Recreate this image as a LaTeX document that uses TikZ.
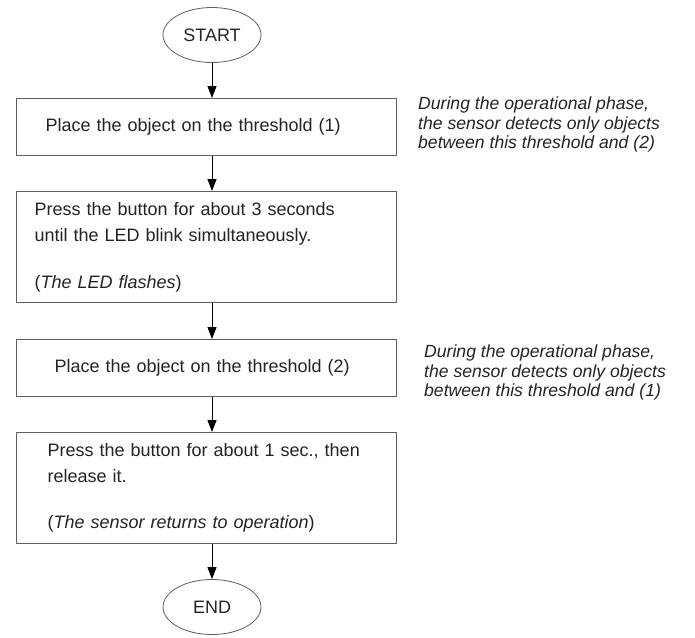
\documentclass[tikz,border=0pt]{standalone}
\usepackage{fontspec}
\setmainfont{Liberation Sans}
\usetikzlibrary{shapes.geometric}
\usetikzlibrary{arrows.meta}

\begin{document}
\begin{tikzpicture}[x=1pt,y=-1pt,
	stepbox/.style={draw=boxgray, line width=1.2pt, rectangle, anchor=north west, minimum width=380pt, align=left, inner ysep=0pt, text=txtgray, font=\fontsize{18}{26}\selectfont},
	terminal/.style={draw=boxgray, line width=0.8pt, ellipse, minimum width=98pt, minimum height=55pt, inner sep=0pt, text=txtgray, font=\fontsize{18}{20}\selectfont},
	note/.style={anchor=north west, align=left, inner sep=0pt, text=txtgray, font=\fontsize{17.6}{19.5}\selectfont\itshape},
	flow/.style={-{Triangle[length=12pt,width=9pt]}, line width=1pt}]
	\definecolor{boxgray}{RGB}{95,95,95}
	\definecolor{txtgray}{RGB}{35,35,35}
	\useasboundingbox (0,0) rectangle (695,637);
	
	\node[terminal] (start) at (212,35) {START};
	\node[stepbox, inner xsep=29pt, text width=322pt, minimum height=57pt] (place1) at (16,98) {Place the object on the threshold (1)};
	\node[stepbox, inner xsep=18pt, text width=344pt, minimum height=111pt] (press3) at (16,191) {Press the button for about 3 seconds\\until the LED blink simultaneously.\\[21pt](\textit{The LED flashes})};
	\node[stepbox, inner xsep=38pt, text width=304pt, minimum height=57pt] (place2) at (16,339) {Place the object on the threshold (2)};
	\node[stepbox, inner xsep=31pt, text width=318pt, minimum height=111pt] (press1) at (16,432) {Press the button for about 1 sec., then\\release it.\\[20pt](\textit{The sensor returns to operation})};
	\node[terminal] (end) at (212,607) {END};
	
	\node[note] (note1) at (418,97) {During the operational phase,\\the sensor detects only objects\\between this threshold and (2)};
	\node[note] (note2) at (424,345) {During the operational phase,\\the sensor detects only objects\\between this threshold and (1)};
	
	\draw[flow] (start) -- (start |- place1.north);
	\draw[flow] (start |- place1.south) -- (start |- press3.north);
	\draw[flow] (start |- press3.south) -- (start |- place2.north);
	\draw[flow] (start |- place2.south) -- (start |- press1.north);
	\draw[flow] (start |- press1.south) -- (end);
\end{tikzpicture}
\end{document}
